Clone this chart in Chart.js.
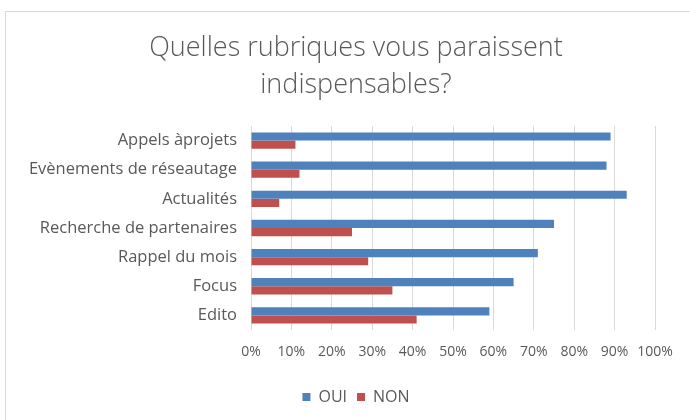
<!DOCTYPE html>
<html>
<head>
<meta charset="utf-8">
<script src="https://cdn.jsdelivr.net/npm/chart.js@4"></script>
<style>
  html, body { margin: 0; padding: 0; background: #fff; overflow: hidden; width: 690px; height: 420px; }
  #box { position: absolute; left: 5px; top: 11px; width: 700px; height: 419px; border: 1px solid #d9d9d9; background: #fff; }
</style>
</head>
<body>
<div id="box"><canvas id="rubChart" width="700" height="419"></canvas></div>
<script>
/* Quelles rubriques - horizontal bars */
const rubriques = ["Appels àprojets", "Evènements de réseautage", "Actualités", "Recherche de partenaires", "Rappel du mois", "Focus", "Edito"];
const oui = [89, 88, 93, 75, 71, 65, 59];
const non = [11, 12, 7, 25, 29, 35, 41];
const pctTicks = [0, 10, 20, 30, 40, 50, 60, 70, 80, 90, 100];

const grey = "#595959";
const fontFam = "'Open Sans', sans-serif";

new Chart(document.getElementById("rubChart"), {
  type: "bar",
  data: {
    labels: rubriques,
    datasets: [
      { label: "OUI", data: oui, backgroundColor: "#4f81bd", barPercentage: 1, categoryPercentage: 0.56 },
      { label: "NON", data: non, backgroundColor: "#c0504d", barPercentage: 1, categoryPercentage: 0.56 }
    ]
  },
  options: {
    indexAxis: "y",
    responsive: false,
    animation: false,
    layout: { padding: { left: 0, right: 0, top: 0, bottom: 16 } },
    plugins: {
      title: {
        display: true,
        text: ["Quelles rubriques vous paraissent", "indispensables?"],
        color: grey,
        font: { family: fontFam, size: 27, weight: "300", lineHeight: 1.37 },
        padding: { top: 18, bottom: 22 }
      },
      legend: {
        position: "bottom",
        labels: { boxWidth: 8, boxHeight: 8, color: grey, font: { family: fontFam, size: 16 }, padding: 10 }
      },
      tooltip: { enabled: false }
    },
    scales: {
      x: {
        min: 0, max: 100,
        afterBuildTicks: (s) => { s.ticks = pctTicks.map(v => ({ value: v })); },
        afterFit: (s) => { s.height = 49; },
        ticks: { color: grey, font: { family: fontFam, size: 14 }, padding: 14, maxRotation: 0, callback: (v) => v + "%" },
        grid: { color: "#d9d9d9", drawTicks: false },
        border: { display: false }
      },
      y: {
        afterFit: (s) => { s.width = 245; },
        ticks: { color: grey, font: { family: fontFam, size: 16.5 }, padding: 14 },
        grid: { display: false, drawTicks: false },
        border: { display: false }
      },
      // empty right-hand spacer so the plot ends where the reference does
      yRight: {
        type: "linear",
        position: "right",
        afterFit: (s) => { s.width = 51; },
        ticks: { display: false },
        grid: { display: false, drawTicks: false },
        border: { display: false }
      }
    }
  }
});
</script>
</body>
</html>
